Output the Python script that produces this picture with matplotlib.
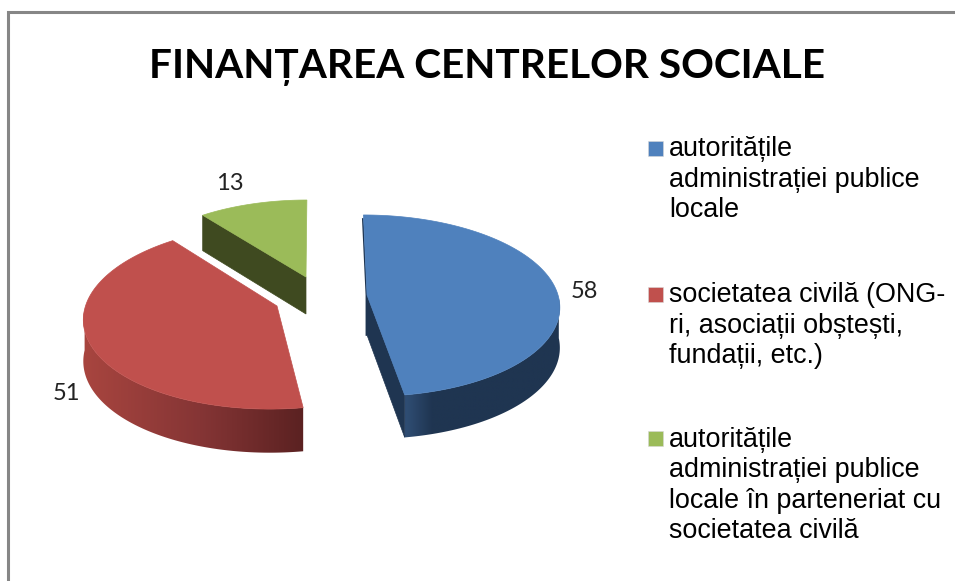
import numpy as np
import matplotlib
matplotlib.use("Agg")
import matplotlib.pyplot as plt
from matplotlib.patches import Rectangle, Polygon
from matplotlib.colors import to_rgb

title = "FINANȚAREA CENTRELOR SOCIALE"
categories = [
    "autoritățile\nadministrației publice\nlocale",
    "societatea civilă (ONG-\nri, asociații obștești,\nfundații, etc.)",
    "autoritățile\nadministrației publice\nlocale în parteneriat cu\nsocietatea civilă",
]
values = [58, 51, 13]
top_colors = ["#4F81BD", "#C0504D", "#9BBB59"]

# slice geometry (pixels)
apexes = [(367, 295), (277, 306), (306, 277)]
depths = [40, 41, 37]
radii_x = [191.0, 191.5, 183.0]
radii_y = [89.4, 91.0, 86.0]
skews = [-4.0, 6.4, 1.0]
PERSP = 0.117
# side gradient: (x position, colour) stops
side_stops = [
    [(406, "#2F4D73"), (432, "#1F3551"), (560, "#1F3551")],
    [(84, "#A8453F"), (200, "#853535"), (305, "#5A2121")],
    None,
]
inner_colors = ["#1F3551", None, "#3F4A20"]
label_pos = [(584, 292), (66, 394), (230, 184)]
legend_y = [141, 287, 431]
last_baselines = [217, 363, 538]

fig = plt.figure(figsize=(9.55, 5.81), dpi=100)
ax = fig.add_axes([0, 0, 1, 1])


def project(i, theta_deg, radius):
    th = np.radians(theta_deg)
    u, v = radius * np.sin(th), radius * np.cos(th)
    d = 1 + PERSP * v
    ax_, ay_ = apexes[i]
    return ax_ + (radii_x[i] * u + skews[i] * v) / d, ay_ - radii_y[i] * v / d, d


def lower(y, d, depth):
    return y + depth / np.sqrt(d)


def gradient_image(stops, x0, x1):
    xs = np.arange(x0, x1 + 1)
    px = [p for p, _ in stops]
    cols = np.array([to_rgb(c) for _, c in stops])
    img = np.stack([np.interp(xs, px, cols[:, k]) for k in range(3)], axis=-1)
    return img[None, :, :]


# frame
ax.plot([8, 8, 955], [581, 12, 12], color="#868686", lw=2.2, solid_joinstyle="miter", zorder=1)

starts = np.concatenate([[0], np.cumsum(values)[:-1]]) / np.sum(values) * 360
ends = np.cumsum(values) / np.sum(values) * 360

for i, (s, e) in enumerate(zip(starts, ends)):
    depth = depths[i]
    apex = apexes[i]
    # rim facing the viewer
    lo, hi = max(s, 92), min(e, 268)
    if hi > lo and side_stops[i]:
        grid = np.linspace(lo, hi, 200)
        xs, ys, ds = project(i, grid, 1)
        ylow = lower(ys, ds, depth)
        rim = Polygon(np.r_[np.c_[xs, ys], np.c_[xs, ylow][::-1]], closed=True, fc="none", ec="none",
                      transform=ax.transData, zorder=3)
        ax.add_patch(rim)
        x0, x1 = int(xs.min()) - 2, int(xs.max()) + 2
        im = ax.imshow(gradient_image(side_stops[i], x0, x1), extent=[x0, x1, ylow.max() + 2, ys.min() - 2],
                       aspect="auto", interpolation="bilinear", zorder=3)
        im.set_clip_path(rim)
    # radial face towards the viewer
    if inner_colors[i]:
        edge = e if i == 0 else s
        xe, ye, de = project(i, edge, 1)
        xc, yc, dc = project(i, edge, 0)
        ax.add_patch(Polygon([(xc, yc), (xe, ye), (xe, lower(ye, de, depth)), (xc, lower(yc, dc, depth))],
                             closed=True, fc=inner_colors[i], ec=inner_colors[i], lw=0.5, zorder=3))
    if i == 0:
        xe, ye, de = project(i, s, 1)
        xc, yc, dc = project(i, s, 0)
        ax.plot([xe - 0.6, xc - 0.6, xc - 0.6], [ye + 4, yc, lower(yc, dc, depth)], color="#1F3551", lw=1.2, zorder=3)
    # top face
    grid = np.linspace(s, e, 160)
    xs, ys, _ = project(i, grid, 1)
    ax.add_patch(Polygon(np.r_[[apex], np.c_[xs, ys]], closed=True, fc=top_colors[i], ec=top_colors[i], lw=0.5, zorder=4))
    ax.text(*label_pos[i], str(values[i]), ha="center", va="center", fontsize=17,
            family="Lato", color="#222222", zorder=5)

ax.text(487, 67, title, ha="center", va="center", fontsize=29.2, family="Lato", weight="bold", color="black")

for i, label in enumerate(categories):
    ax.add_patch(Rectangle((647.5, legend_y[i]), 15, 14.5, fc=top_colors[i], ec="#D8D8D8", lw=0.4, zorder=4))
    ax.text(669, last_baselines[i], label, ha="left", va="baseline", fontsize=19.4, family="Liberation Sans",
            color="black", linespacing=1.22)

ax.set_xlim(0, 955)
ax.set_ylim(581, 0)
ax.axis("off")
fig.savefig("out.png", dpi=100, facecolor="white")
